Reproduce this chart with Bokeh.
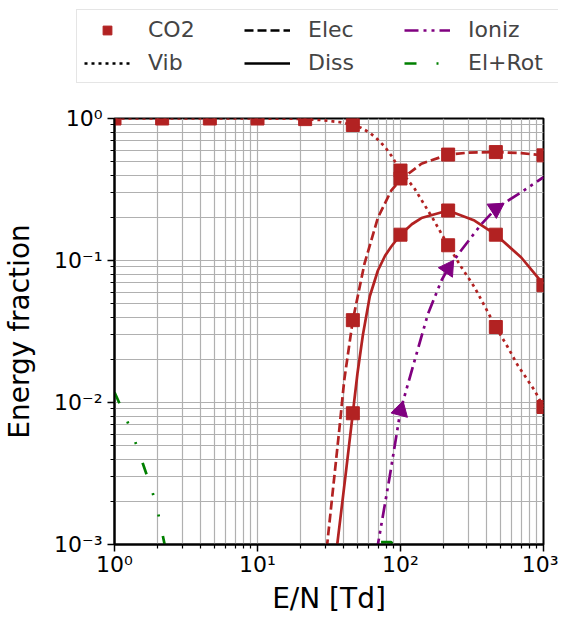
import math
from bokeh.plotting import figure
from bokeh.layouts import column
from bokeh.models import Legend, LegendItem, CustomJSTickFormatter, FixedTicker, Range1d
from bokeh.embed import file_html
from bokeh.resources import INLINE

# ---------------- data ----------------
marker_x = [1, 2.154, 4.642, 10, 21.54, 46.42, 100, 215.4, 464.2, 1000]
vib_marker_y = [1.0, 1.0, 1.0, 1.0, 0.99, 0.90, 0.43, 0.128, 0.034, 0.0093]

elec_marker_x = [46.42, 100, 215.4, 464.2, 1000]
elec_marker_y = [0.038, 0.378, 0.557, 0.58, 0.55]

diss_marker_x = [46.42, 100, 215.4, 464.2, 1000]
diss_marker_y = [0.0084, 0.152, 0.225, 0.152, 0.067]

ioniz_marker_x = [100, 215.4, 464.2]
ioniz_marker_y = [0.0088, 0.088, 0.232]
ioniz_marker_angle_deg = [-15, -34, -57]

vib_x = [1, 10, 20, 28, 38.5, 46.4, 53, 61.4, 69.5, 78, 86, 100, 125.6, 168.6, 215,
         266, 329, 408, 464, 563, 662, 865, 1000]
vib_y = [1, 1, 0.995, 0.975, 0.94, 0.90, 0.86, 0.79, 0.71, 0.63, 0.55, 0.43, 0.32, 0.197,
         0.128, 0.09, 0.065, 0.0433, 0.034, 0.0245, 0.0182, 0.0122, 0.0093]

elec_x = [29, 30.7, 37.3, 40.4, 46.4, 56, 69.5, 86, 100, 140, 215, 300, 464, 700, 1000]
elec_y = [0.0005, 0.001, 0.0064, 0.0143, 0.038, 0.095, 0.20, 0.31, 0.37, 0.48, 0.557,
          0.575, 0.58, 0.57, 0.55]

diss_x = [34, 36.1, 41, 46.4, 50, 54.6, 61, 69.5, 78, 86, 100, 120, 140, 215, 329, 464,
          699, 1000]
diss_y = [0.0005, 0.001, 0.0029, 0.0084, 0.016, 0.030, 0.056, 0.085, 0.108, 0.125, 0.152,
          0.180, 0.199, 0.225, 0.191, 0.152, 0.105, 0.068]

ioniz_x = [64, 69.5, 84, 100, 125.6, 155.6, 193, 215, 266, 367, 464, 699, 1000]
ioniz_y = [0.0005, 0.001, 0.003, 0.0088, 0.0198, 0.042, 0.072, 0.088, 0.118, 0.18,
           0.232, 0.303, 0.386]

elrot_x = [1, 1.19, 1.37, 1.58, 1.81, 2.01, 2.21, 2.5, 8, 40, 66, 72, 86, 92, 150]
elrot_y = [0.0118, 0.008, 0.0056, 0.0037, 0.0025, 0.0017, 0.00107, 0.0006, 0.0001,
           0.0003, 0.00095, 0.00104, 0.00104, 0.00095, 0.0003]

x_major = [1, 10, 100, 1000]
y_major = [0.001, 0.01, 0.1, 1]

legend_labels = ["CO2", "Elec", "Ioniz", "Vib", "Diss", "El+Rot"]

# ---------------- styles ----------------
RED = "#b22222"
PURPLE = "#800080"
GREEN = "#008000"
LW = 2.7
FONT = "DejaVu Sans"
VIB_DASH = "3 4"
ELEC_DASH = "9 4"
ION_DASH = "14 5 3 5 3 5"
ER_DASH = "12 20 2 20 2 20"
W = 558

# ---------------- legend strip (its own frame, data kept out of view) ----------------
lf = figure(width=W, height=100, x_range=Range1d(-2, -1), y_range=Range1d(-2, -1),
            output_backend="svg", toolbar_location=None,
            x_axis_location=None, y_axis_location=None,
            min_border_left=0, min_border_right=0, min_border_top=0, min_border_bottom=0)
lf.outline_line_color = None
lf.grid.visible = False
lf.background_fill_color = "white"
lf.border_fill_color = "white"
try:
    lf.frame_align = False
except Exception:
    pass

l_co2 = lf.scatter(marker_x, vib_marker_y, marker="square", size=13, color=RED)
l_vib = lf.line(vib_x, vib_y, line_color="black", line_width=LW, line_dash=VIB_DASH)
l_elec = lf.line(elec_x, elec_y, line_color="black", line_width=LW, line_dash=ELEC_DASH)
l_diss = lf.line(diss_x, diss_y, line_color="black", line_width=LW)
l_ion = lf.line(ioniz_x, ioniz_y, line_color=PURPLE, line_width=LW, line_dash=ION_DASH)
l_er = lf.line(elrot_x, elrot_y, line_color=GREEN, line_width=LW, line_dash=ER_DASH)
legend_renderers = [l_co2, l_elec, l_ion, l_vib, l_diss, l_er]

legend = Legend(items=[LegendItem(label=lab, renderers=[r])
                       for lab, r in zip(legend_labels, legend_renderers)],
                location=(76, 17), orientation="horizontal", ncols=3,
                glyph_width=46, glyph_height=22, label_height=22, label_standoff=18,
                label_width=88, spacing=8, padding=7,
                label_text_font=FONT, label_text_font_size="22px",
                border_line_color="#cccccc", border_line_width=1.2,
                background_fill_color="white", background_fill_alpha=1.0)
lf.add_layout(legend, "center")

# ---------------- main plot ----------------
p = figure(width=W, height=517, x_axis_type="log", y_axis_type="log",
           x_range=Range1d(1, 1000), y_range=Range1d(1e-3, 1),
           output_backend="svg", toolbar_location=None,
           min_border_left=114, min_border_right=15, min_border_top=18,
           min_border_bottom=72)
p.background_fill_color = "white"
p.border_fill_color = "white"
try:
    p.frame_align = False
except Exception:
    pass

p.line(vib_x, vib_y, line_color=RED, line_width=LW, line_dash=VIB_DASH)
p.line(elec_x, elec_y, line_color=RED, line_width=LW, line_dash=ELEC_DASH)
p.line(diss_x, diss_y, line_color=RED, line_width=LW)
p.line(ioniz_x, ioniz_y, line_color=PURPLE, line_width=LW, line_dash=ION_DASH)
p.line(elrot_x, elrot_y, line_color=GREEN, line_width=LW, line_dash=ER_DASH)

p.scatter(marker_x, vib_marker_y, marker="square", size=13, color=RED)
p.scatter(elec_marker_x, elec_marker_y, marker="square", size=13, color=RED)
p.scatter(diss_marker_x, diss_marker_y, marker="square", size=13, color=RED)
p.scatter(ioniz_marker_x, ioniz_marker_y, marker="triangle", size=17, color=PURPLE,
          angle=[math.radians(a) for a in ioniz_marker_angle_deg])

minor = []
for k in range(0, 3):
    for m in range(2, 10):
        minor.append(m * 10 ** k)
p.xaxis.ticker = FixedTicker(ticks=x_major, minor_ticks=minor)
yminor = []
for k in range(-3, 0):
    for m in range(2, 10):
        yminor.append(m * 10.0 ** k)
p.yaxis.ticker = FixedTicker(ticks=y_major, minor_ticks=yminor)

fmt = CustomJSTickFormatter(code="""
const e = Math.round(Math.log10(tick));
const sup = {'-':'\u207b','0':'\u2070','1':'\u00b9','2':'\u00b2','3':'\u00b3',
             '4':'\u2074','5':'\u2075','6':'\u2076','7':'\u2077','8':'\u2078','9':'\u2079'};
return '10' + String(e).split('').map(c => sup[c]).join('');
""")
p.xaxis.formatter = fmt
p.yaxis.formatter = fmt

p.xaxis.axis_label = "E/N [Td]"
p.yaxis.axis_label = "Energy fraction"
for ax in (p.xaxis, p.yaxis):
    ax.axis_line_width = 2
    ax.axis_line_color = "black"
    ax.major_tick_line_width = 1.5
    ax.major_tick_line_color = "black"
    ax.major_tick_out = 7
    ax.major_tick_in = 0
    ax.minor_tick_line_width = 1.2
    ax.minor_tick_line_color = "black"
    ax.minor_tick_out = 4
    ax.minor_tick_in = 0
    ax.major_label_text_font = FONT
    ax.major_label_text_font_size = "22px"
    ax.major_label_text_color = "black"
    ax.axis_label_text_font = FONT
    ax.axis_label_text_font_size = "28px"
    ax.axis_label_text_font_style = "normal"
    ax.axis_label_text_color = "black"
p.xaxis.major_label_standoff = 0
p.yaxis.major_label_standoff = 5
p.xaxis.axis_label_standoff = 2
p.yaxis.axis_label_standoff = 15

p.grid.grid_line_color = "#b0b0b0"
p.grid.grid_line_width = 1.2
p.grid.minor_grid_line_color = "#b0b0b0"
p.grid.minor_grid_line_width = 1.2

p.outline_line_color = "black"
p.outline_line_width = 2
p.outline_line_alpha = 1.0

layout = column(lf, p, spacing=0)
open("out.html", "w").write(file_html(layout, INLINE))
